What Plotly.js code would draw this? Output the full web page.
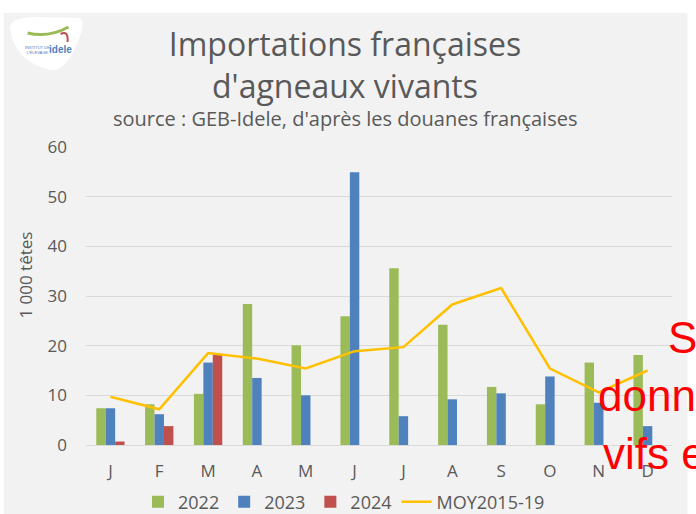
<!DOCTYPE html>
<html>
<head>
<meta charset="utf-8">
<script src="https://cdn.plot.ly/plotly-3.0.1.min.js"></script>
<style>
  html, body { margin: 0; padding: 0; background: #fff; }
  #graph { width: 696px; height: 514px; }
</style>
</head>
<body>
<div id="graph"></div>
<script>
const months = ['J', 'F', 'M', 'A', 'M ', 'J ', 'J  ', 'A ', 'S', 'O', 'N', 'D'];
const monthLabels = ['J', 'F', 'M', 'A', 'M', 'J', 'J', 'A', 'S', 'O', 'N', 'D'];
const y2022 = [7.4, 8.2, 10.3, 28.4, 20.1, 25.9, 35.6, 24.2, 11.7, 8.2, 16.6, 18.1];
const y2023 = [7.4, 6.2, 16.6, 13.5, 10.0, 54.9, 5.8, 9.2, 10.4, 13.8, 8.5, 3.8];
const y2024 = [0.7, 3.8, 18.2];
const moy = [9.7, 7.2, 18.5, 17.4, 15.4, 18.9, 19.7, 28.3, 31.6, 15.4, 10.6, 15.0];

const grey = '#595959';
const font = '"Open Sans", Lato, sans-serif';
const red = '#ff0000';
const calibri = '"Liberation Sans", sans-serif';

// pixel -> paper helpers (plot area: x 85.5..672.5, y 147..445)
const px = (x) => (x - 85.5) / 587;
const py = (y) => (445 - y) / 298;

let data = [
    {
        type: 'bar',
        x: months,
        y: y2022,
        name: '2022',
        marker: {color: '#9bbb59'},
    },
    {
        type: 'bar',
        x: months,
        y: y2023,
        name: '2023',
        marker: {color: '#4f81bd'},
    },
    {
        type: 'bar',
        x: months.slice(0, y2024.length),
        y: y2024,
        name: '2024',
        marker: {color: '#c0504d'},
    },
    {
        type: 'scatter',
        mode: 'lines',
        x: months,
        y: moy,
        name: 'MOY2015-19',
        line: {color: '#ffc000', width: 2.5},
    },
];

let layout = {
    width: 696,
    height: 514,
    margin: {l: 85.5, r: 23.5, t: 147, b: 69, autoexpand: false},
    paper_bgcolor: '#ffffff',
    plot_bgcolor: 'rgba(0,0,0,0)',
    font: {family: font, color: grey, size: 17},
    barmode: 'group',
    bargap: 0.42,
    bargroupgap: 0,
    showlegend: true,
    title: {
        text: 'Importations françaises<br>d\'agneaux vivants',
        font: {family: font, size: 32, color: grey},
        x: 345 / 696,
        xanchor: 'center',
        xref: 'container',
        y: 1 - 56 / 514,
        yanchor: 'middle',
        yref: 'container',
    },
    xaxis: {
        type: 'category',
        tickvals: months,
        ticktext: monthLabels,
        showgrid: false,
        showline: false,
        ticks: '',
        ticklabelstandoff: 14,
        tickfont: {size: 17, color: grey},
        fixedrange: true,
    },
    yaxis: {
        range: [0, 60],
        dtick: 10,
        tick0: 0,
        gridcolor: '#d9d9d9',
        gridwidth: 1,
        zeroline: true,
        zerolinecolor: '#d9d9d9',
        ticks: '',
        ticklabelstandoff: 18,
        tickfont: {size: 17, color: grey},
        fixedrange: true,
    },
    legend: {
        orientation: 'h',
        x: 344 / 696,
        xref: 'container',
        xanchor: 'center',
        y: 1 - 502 / 514,
        yref: 'container',
        yanchor: 'middle',
        font: {size: 18, color: grey},
        bgcolor: 'rgba(0,0,0,0)',
        traceorder: 'normal',
        itemwidth: 30,
    },
    shapes: [
        {
            type: 'rect', xref: 'paper', yref: 'paper', layer: 'below',
            x0: px(3), x1: px(688), y0: py(520), y1: py(13),
            fillcolor: '#f2f2f2', line: {width: 0},
        },
        {
            type: 'path', xref: 'paper', yref: 'paper', layer: 'below',
            path: 'M ' + px(9) + ' ' + py(28) + ' Q ' + px(10) + ' ' + py(16) + ' ' + px(40) + ' ' + py(17) +
                ' L ' + px(78) + ' ' + py(18) + ' Q ' + px(86) + ' ' + py(20) + ' ' + px(78) + ' ' + py(40) +
                ' Q ' + px(66) + ' ' + py(72) + ' ' + px(50) + ' ' + py(70) +
                ' Q ' + px(14) + ' ' + py(62) + ' ' + px(9) + ' ' + py(28) + ' Z',
            fillcolor: '#ffffff', line: {width: 0},
        },
        {
            type: 'path', xref: 'paper', yref: 'paper', layer: 'below',
            path: 'M ' + px(27) + ' ' + py(33) + ' Q ' + px(48) + ' ' + py(38) + ' ' + px(68) + ' ' + py(27),
            line: {color: '#9bbb59', width: 3},
        },
        {
            type: 'path', xref: 'paper', yref: 'paper', layer: 'below',
            path: 'M ' + px(60) + ' ' + py(34) + ' Q ' + px(68) + ' ' + py(30) + ' ' + px(67) + ' ' + py(42),
            line: {color: '#c0504d', width: 2},
        },
    ],
    annotations: [
        {
            text: 'source : GEB-Idele, d\'après les douanes françaises',
            xref: 'paper', yref: 'paper',
            x: px(345), y: py(119), xanchor: 'center', yanchor: 'middle',
            showarrow: false,
            font: {size: 20, color: grey},
        },
        {
            text: '1 000 têtes',
            xref: 'paper', yref: 'paper',
            x: px(24), y: py(275), xanchor: 'center', yanchor: 'middle',
            textangle: -90,
            showarrow: false,
            font: {size: 17, color: grey},
        },
        {
            text: '<b>idele</b>',
            xref: 'paper', yref: 'paper',
            x: px(60), y: py(50), xanchor: 'center', yanchor: 'middle',
            showarrow: false,
            font: {family: calibri, size: 10, color: '#4f81bd'},
        },
        {
            text: 'INSTITUT DE<br>L\'ÉLEVAGE',
            xref: 'paper', yref: 'paper',
            x: px(37), y: py(50), xanchor: 'center', yanchor: 'middle',
            showarrow: false,
            font: {family: calibri, size: 4, color: '#4f81bd'},
        },
        {
            text: 'So',
            xref: 'paper', yref: 'paper',
            x: px(666), y: py(337), xanchor: 'left', yanchor: 'middle',
            showarrow: false,
            font: {family: calibri, size: 44, color: red},
        },
        {
            text: 'donn',
            xref: 'paper', yref: 'paper',
            x: px(596), y: py(395), xanchor: 'left', yanchor: 'middle',
            showarrow: false,
            font: {family: calibri, size: 44, color: red},
        },
        {
            text: 'vifs e',
            xref: 'paper', yref: 'paper',
            x: px(601), y: py(453), xanchor: 'left', yanchor: 'middle',
            showarrow: false,
            font: {family: calibri, size: 44, color: red},
        },
    ],
};

let config = {staticPlot: true};
Plotly.newPlot('graph', data, layout, config);
</script>
</body>
</html>
